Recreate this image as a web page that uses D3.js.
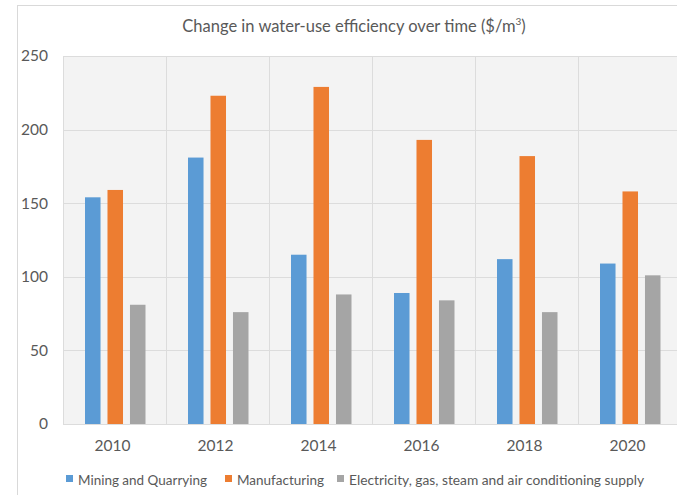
<!DOCTYPE html>
<html><head><meta charset="utf-8">
<script src="https://cdn.jsdelivr.net/npm/d3@7"></script>
<style>body{margin:0;background:#fff}svg{display:block}</style>
</head><body>
<script>
const years = ["2010","2012","2014","2016","2018","2020"];
const seriesNames = ["Mining and Quarrying","Manufacturing","Electricity, gas, steam and air conditioning supply"];
const mining = [154, 181, 115, 89, 112, 109];
const manufacturing = [159, 223, 229, 193, 182, 158];
const electricity = [81, 76, 88, 84, 76, 101];
const yTicks = [0, 50, 100, 150, 200, 250];
const colors = ["#5b9bd5", "#ed7d31", "#a5a5a5"];
const seriesValues = [mining, manufacturing, electricity];

const W = 677, H = 495;
const font = "Lato, 'Open Sans', sans-serif";
const svg = d3.select("body").append("svg").attr("width", W).attr("height", H);

// outer chart border (left + top)
svg.append("rect").attr("x", 17.5).attr("y", 5.5).attr("width", W).attr("height", H)
  .attr("fill", "#fff").attr("stroke", "#d9d9d9");

const pLeft = 63, pRight = 681, pTop = 56, pBottom = 424;
const x = d3.scaleBand().domain(years).range([pLeft, pRight]).padding(0);
const xi = d3.scaleBand().domain(d3.range(3)).range([22, 82.5]).paddingInner(0.31).paddingOuter(0);
const y = d3.scaleLinear().domain([0, 250]).range([pBottom, pTop]);

// plot background
svg.append("rect").attr("x", pLeft).attr("y", pTop).attr("width", pRight - pLeft).attr("height", pBottom - pTop)
  .attr("fill", "#f3f3f3");

// horizontal gridlines
svg.append("g").selectAll("line").data(yTicks).join("line")
  .attr("x1", pLeft).attr("x2", pRight)
  .attr("y1", d => Math.round(y(d)) + 0.5).attr("y2", d => Math.round(y(d)) + 0.5)
  .attr("stroke", "#dcdcdc");
// vertical gridlines at band boundaries
const bounds = years.map(d => x(d)).concat([pRight]);
svg.append("g").selectAll("line").data(bounds).join("line")
  .attr("x1", d => Math.round(d) + 0.5).attr("x2", d => Math.round(d) + 0.5)
  .attr("y1", pTop).attr("y2", pBottom)
  .attr("stroke", "#dcdcdc");

// bars
seriesValues.forEach((vals, si) => {
  svg.append("g").selectAll("rect").data(vals).join("rect")
    .attr("x", (d, i) => x(years[i]) + xi(si))
    .attr("width", xi.bandwidth())
    .attr("y", d => y(d))
    .attr("height", d => y(0) - y(d))
    .attr("fill", colors[si]);
});

// y axis labels
const yAxis = d3.axisLeft(y).tickValues(yTicks).tickSize(0).tickPadding(0);
const ga = svg.append("g").attr("transform", `translate(48,0)`).call(yAxis);
ga.select(".domain").remove();
ga.selectAll("text").attr("font-family", font).attr("font-size", 15.5).attr("fill", "#595959");

// x axis labels
const xAxis = d3.axisBottom(x).tickSize(0).tickPadding(0);
const gx = svg.append("g").attr("transform", `translate(0,${pBottom + 16})`).call(xAxis);
gx.select(".domain").remove();
gx.selectAll("text").attr("font-family", font).attr("font-size", 15.5).attr("fill", "#595959")
  .attr("dx", -2);

// title
const title = svg.append("text").attr("x", 354).attr("y", 32).attr("text-anchor", "middle")
  .attr("font-family", font).attr("font-size", 16.5).attr("fill", "#595959");
title.append("tspan").text("Change in water-use efficiency over time ($/m");
title.append("tspan").text("3").attr("font-size", 10).attr("dy", -7);
title.append("tspan").text(")").attr("dy", 7);

// legend
const legendX = [66, 225, 337];
const legendW = [129, 87, 295];
const lg = svg.append("g");
seriesNames.forEach((name, i) => {
  lg.append("rect").attr("x", legendX[i]).attr("y", 475).attr("width", 7).attr("height", 7).attr("fill", colors[i]);
  lg.append("text").attr("x", legendX[i] + 12).attr("y", 485)
    .attr("font-family", font).attr("font-size", 13.5).attr("fill", "#595959")
    .attr("textLength", legendW[i]).attr("lengthAdjust", "spacingAndGlyphs").text(name);
});
</script>
</body></html>
